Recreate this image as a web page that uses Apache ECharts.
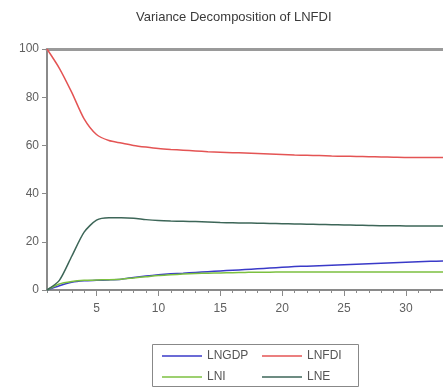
<!DOCTYPE html>
<html><head><meta charset="utf-8">
<script src="https://cdn.jsdelivr.net/npm/echarts@6/dist/echarts.min.js"></script>
<style>html,body{margin:0;padding:0;background:#fff}#c{width:443px;height:392px}</style>
</head><body><div id="c"></div>
<script>
var titleText = "Variance Decomposition of LNFDI";
var periods = [1,2,3,4,5,6,7,8,9,10,11,12,13,14,15,16,17,18,19,20,21,22,23,24,25,26,27,28,29,30,31,32,33];
var xTickLabels = [5,10,15,20,25,30];
var yTickLabels = [0,20,40,60,80,100];
var LNGDP = [0,1.8,3.2,3.8,4.0,4.2,4.5,5.2,5.8,6.3,6.7,7.0,7.3,7.6,7.9,8.2,8.5,8.8,9.1,9.4,9.7,9.9,10.1,10.3,10.5,10.7,10.9,11.1,11.3,11.5,11.7,11.9,12.0];
var LNFDI = [100,92,82,71,64.5,62,61,60,59.3,58.7,58.3,58,57.7,57.4,57.2,57,56.8,56.6,56.4,56.2,56,55.9,55.8,55.6,55.5,55.4,55.3,55.2,55.1,55.0,55.0,55.0,55.0];
var LNI = [0,2.5,3.5,4.0,4.2,4.3,4.5,5.0,5.5,6.0,6.3,6.6,6.8,7.0,7.1,7.2,7.3,7.4,7.4,7.5,7.5,7.5,7.5,7.5,7.5,7.5,7.5,7.5,7.5,7.5,7.5,7.5,7.5];
var LNE = [0,4,14,24,29,30,30,29.8,29.2,28.8,28.6,28.5,28.4,28.2,28,27.9,27.8,27.7,27.6,27.5,27.4,27.3,27.2,27.1,27.0,26.9,26.8,26.7,26.7,26.6,26.6,26.6,26.6];
var seriesNames = ["LNGDP","LNFDI","LNI","LNE"];
var seriesValues = [LNGDP, LNFDI, LNI, LNE];
var colors = ["#3a3ac8","#e45454","#7cc040","#3d6658"];

function pairs(v){ return periods.map(function(p,i){ return [p, v[i]]; }); }

var chart = echarts.init(document.getElementById('c'), null, {renderer:'canvas'});
var axisGray = '#8a8a8a';
var font = 'Liberation Sans, Arial, sans-serif';
chart.setOption({
  animation:false,
  color: colors,
  title:{text:titleText,left:131,top:6,textStyle:{fontFamily:font,fontSize:13,fontWeight:'normal',color:'#3a3a3a'}},
  grid:{left:47,right:-20,top:49,bottom:102,containLabel:false},
  legend:[
    {orient:'vertical',left:157,top:345,itemWidth:40,itemHeight:12,itemGap:9,data:['LNGDP','LNI'],
     icon:'path://M0,5 L40,5 L40,6.5 L0,6.5 Z',textStyle:{fontFamily:font,fontSize:12,color:'#555'}},
    {orient:'vertical',left:257,top:345,itemWidth:40,itemHeight:12,itemGap:9,data:['LNFDI','LNE'],
     icon:'path://M0,5 L40,5 L40,6.5 L0,6.5 Z',textStyle:{fontFamily:font,fontSize:12,color:'#555'}}
  ],
  graphic:[{type:'rect',left:150,top:342,shape:{width:206,height:42},style:{fill:null,stroke:'#888',lineWidth:1}}],
  xAxis:[
    {type:'value',min:1,max:33,position:'bottom',
     axisLine:{show:true,lineStyle:{color:axisGray,width:2}},
     axisTick:{show:true,customValues:xTickLabels,length:6,lineStyle:{color:axisGray,width:1}},
     axisLabel:{customValues:xTickLabels,fontFamily:font,fontSize:12,color:'#606060',margin:13},
     splitLine:{show:false}},
    {type:'value',min:1,max:33,position:'bottom',
     axisLine:{show:false},
     axisTick:{show:true,customValues:periods,length:3,lineStyle:{color:axisGray,width:1}},
     axisLabel:{show:false},splitLine:{show:false}},
    {type:'value',min:1,max:33,position:'top',
     axisLine:{show:true,lineStyle:{color:'#9a9a9a',width:3}},
     axisTick:{show:false},axisLabel:{show:false},splitLine:{show:false}}
  ],
  yAxis:{type:'value',min:0,max:100,interval:20,
     axisLine:{show:true,lineStyle:{color:axisGray,width:2}},
     axisTick:{show:true,length:5,lineStyle:{color:axisGray}},
     axisLabel:{fontFamily:font,fontSize:12,color:'#606060',margin:8},
     splitLine:{show:false}},
  series: seriesNames.map(function(n,i){
    return {name:n,type:'line',xAxisIndex:0,data:pairs(seriesValues[i]),symbol:'none',smooth:0.25,
      lineStyle:{width:1.5,color:colors[i]},z:(n==='LNFDI'?3:2)};
  })
});
</script></body></html>
